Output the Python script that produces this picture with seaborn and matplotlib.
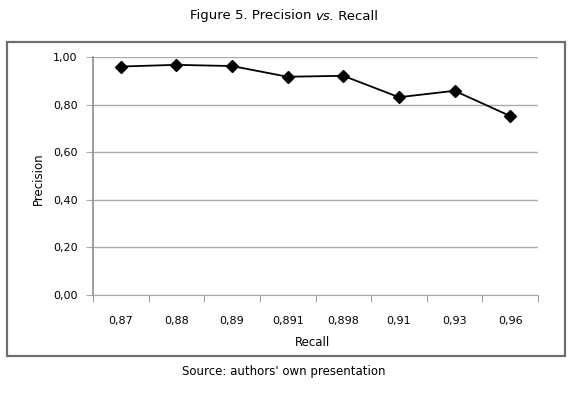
import numpy as np
import pandas as pd
import matplotlib
matplotlib.use("Agg")
import matplotlib.pyplot as plt
import seaborn as sns
from matplotlib.patches import Rectangle
from matplotlib.ticker import FuncFormatter, FixedLocator

recall_labels = ["0,87", "0,88", "0,89", "0,891", "0,898", "0,91", "0,93", "0,96"]
precision = [0.960, 0.967, 0.962, 0.917, 0.921, 0.831, 0.858, 0.752]

df = pd.DataFrame({"Recall": recall_labels, "Precision": precision})

sns.set_style("white")
plt.rcParams["font.family"] = ["DejaVu Sans"]
plt.rcParams["text.color"] = "black"
plt.rcParams["axes.labelcolor"] = "black"
plt.rcParams["xtick.labelcolor"] = "black"
plt.rcParams["ytick.labelcolor"] = "black"

fig = plt.figure(figsize=(5.8, 3.95), dpi=100)
ax = fig.add_axes([93 / 580, 1 - 295 / 395, 445 / 580, 238 / 395])

sns.pointplot(data=df, x="Recall", y="Precision", color="black", markers="D",
              linestyles="-", order=recall_labels, ax=ax,
              markersize=6.5, linewidth=1.3)

grid_c = "#ababab"
ax.set_ylim(0, 1.0)
ax.set_yticks(np.arange(0, 1.01, 0.2))
ax.yaxis.set_major_formatter(FuncFormatter(lambda v, p: f"{v:.2f}".replace(".", ",")))
ax.yaxis.grid(True, color=grid_c, linewidth=1)
ax.set_axisbelow(True)
ax.set_xlim(-0.5, len(recall_labels) - 0.5)

for s in ["top", "right"]:
    ax.spines[s].set_visible(False)
ax.spines["left"].set_color("#8c8c8c")
ax.spines["bottom"].set_color(grid_c)
ax.spines["left"].set_linewidth(1.2)

ax.tick_params(axis="y", which="major", left=True, length=5, color=grid_c,
               labelsize=8, pad=6)
ax.tick_params(axis="x", which="major", length=0, labelsize=8, pad=15)
ax.xaxis.set_minor_locator(FixedLocator(np.arange(-0.5, len(recall_labels), 1.0)))
ax.tick_params(axis="x", which="minor", bottom=True, length=5, color="#8c8c8c")

ax.set_xlabel("Recall", fontsize=8.5, va="center")
ax.set_ylabel("Precision", fontsize=8.5, va="center")
ax.xaxis.set_label_coords(0.5 - 2.5 / 445, (295 - 343) / 238)
ax.yaxis.set_label_coords((38 - 93) / 445, 0.49)

fig.patches.append(Rectangle((7 / 580, 1 - 356 / 395), 558 / 580, 314 / 395,
                             transform=fig.transFigure, fill=False,
                             edgecolor="#6e6e6e", linewidth=1.6))

# title with italic "vs."
fig.canvas.draw()
r = fig.canvas.get_renderer()
parts = [("Figure 5. Precision ", "normal"), ("vs.", "italic"), (" Recall", "normal")]
texts = []
for s, st in parts:
    texts.append(fig.text(0, 1 - 16 / 395, s, fontsize=9.5, style=st, va="center"))
widths = [t.get_window_extent(r).width for t in texts]
x = 284 - sum(widths) / 2
for t, w in zip(texts, widths):
    t.set_x(x / 580)
    x += w

fig.text(284 / 580, 1 - 372 / 395, "Source: authors' own presentation",
         fontsize=8.5, ha="center", va="center")

fig.savefig("out.png", dpi=100)
